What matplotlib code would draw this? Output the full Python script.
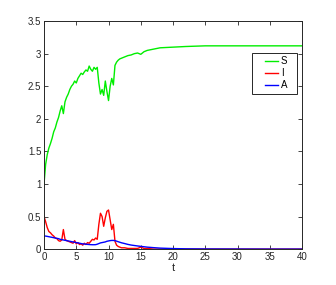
import matplotlib
matplotlib.use("Agg")
import matplotlib.pyplot as plt
from matplotlib.legend_handler import HandlerLine2D
from matplotlib.lines import Line2D

# --- Data ---
t = [0, 0.25, 0.5, 0.75, 1.0, 1.25, 1.5, 1.75, 2.0, 2.25, 2.5, 2.75,
     3.0, 3.25, 3.5, 3.75, 4.0, 4.25, 4.5, 4.75, 5.0, 5.25, 5.5, 5.75,
     6.0, 6.25, 6.5, 6.75, 7.0, 7.25, 7.5, 7.75, 8.0, 8.25, 8.5, 8.75,
     9.0, 9.25, 9.5, 9.75, 10.0, 10.25, 10.5, 10.75, 11.0, 11.25, 11.5, 11.75,
     12.0, 12.5, 13.0, 13.5, 14.0, 14.5, 15.0, 15.5, 16.0, 17.0, 18.0,
     20.0, 22.0, 25.0, 30.0, 35.0, 40.0]

S = [1.00, 1.30, 1.45, 1.55, 1.62, 1.70, 1.80, 1.86, 1.95, 2.02, 2.12, 2.20,
     2.08, 2.26, 2.33, 2.38, 2.45, 2.50, 2.53, 2.58, 2.55, 2.62, 2.66, 2.70,
     2.68, 2.72, 2.75, 2.73, 2.81, 2.76, 2.73, 2.79, 2.76, 2.79, 2.55, 2.38,
     2.45, 2.36, 2.58, 2.42, 2.28, 2.50, 2.62, 2.52, 2.82, 2.87, 2.90, 2.92,
     2.93, 2.95, 2.97, 2.98, 3.00, 3.01, 2.99, 3.03, 3.05, 3.07, 3.09,
     3.10, 3.11, 3.12, 3.12, 3.12, 3.12]

I = [0.50, 0.42, 0.33, 0.27, 0.25, 0.22, 0.20, 0.17, 0.16, 0.13, 0.12, 0.14,
     0.30, 0.15, 0.13, 0.12, 0.11, 0.10, 0.09, 0.13, 0.08, 0.10, 0.07, 0.08,
     0.06, 0.09, 0.07, 0.10, 0.09, 0.12, 0.15, 0.14, 0.17, 0.15, 0.38, 0.55,
     0.50, 0.35, 0.48, 0.58, 0.60, 0.45, 0.30, 0.38, 0.12, 0.06, 0.04, 0.03,
     0.02, 0.02, 0.01, 0.01, 0.01, 0.01, 0.03, 0.01, 0.01, 0.0, 0.0,
     0.0, 0.0, 0.0, 0.0, 0.0, 0.0]

A = [0.200, 0.200, 0.195, 0.190, 0.185, 0.180, 0.175, 0.170, 0.165, 0.160, 0.150, 0.145,
     0.140, 0.135, 0.130, 0.125, 0.120, 0.115, 0.110, 0.105, 0.100, 0.095, 0.090, 0.085,
     0.080, 0.078, 0.075, 0.072, 0.070, 0.068, 0.067, 0.067, 0.068, 0.075, 0.085, 0.095,
     0.100, 0.105, 0.110, 0.120, 0.125, 0.130, 0.133, 0.133, 0.130, 0.122, 0.113, 0.105,
     0.097, 0.085, 0.072, 0.062, 0.055, 0.048, 0.042, 0.036, 0.030, 0.022, 0.015,
     0.008, 0.004, 0.002, 0.001, 0.0, 0.0]

x_ticks = [0, 5, 10, 15, 20, 25, 30, 35, 40]
y_ticks = [0, 0.5, 1, 1.5, 2, 2.5, 3, 3.5]
y_labels = ['0', '0.5', '1', '1.5', '2', '2.5', '3', '3.5']

plt.rcParams['font.family'] = ['Liberation Sans', 'DejaVu Sans']
plt.rcParams['font.size'] = 7

fig = plt.figure(figsize=(3.36, 2.85), dpi=100)
ax = fig.add_axes([0.131, 0.126, 0.768, 0.800])

ax.plot(t, S, color='#00ee00', linewidth=1.0, label='S')
ax.plot(t, I, color='#ff0000', linewidth=1.0, label='I')
ax.plot(t, A, color='#0000ff', linewidth=1.0, label='A')

ax.set_xlim(0, 40)
ax.set_ylim(0, 3.5)
ax.set_xticks(x_ticks)
ax.set_yticks(y_ticks)
ax.set_yticklabels(y_labels)
ax.tick_params(direction='in', length=3, width=0.6, top=True, right=True,
               colors='#262626', labelsize=7, pad=2)
for sp in ax.spines.values():
    sp.set_color('#262626')
    sp.set_linewidth(0.7)

ax.set_xlabel('t', fontsize=8, color='#262626', labelpad=1)

# MATLAB-style legend: wide box, short lines pushed to the right
leg = ax.legend(loc='upper left', bbox_to_anchor=(0.806, 0.0, 0.175, 0.86),
                mode='expand', borderaxespad=0, fancybox=False, framealpha=1,
                edgecolor='#262626', handlelength=2.3, handletextpad=0.3,
                borderpad=0.35, labelspacing=0.2, fontsize=7,
                handler_map={Line2D: HandlerLine2D(xpad=0.95)})
leg.get_frame().set_linewidth(0.7)

fig.savefig('out.png', dpi=100)
